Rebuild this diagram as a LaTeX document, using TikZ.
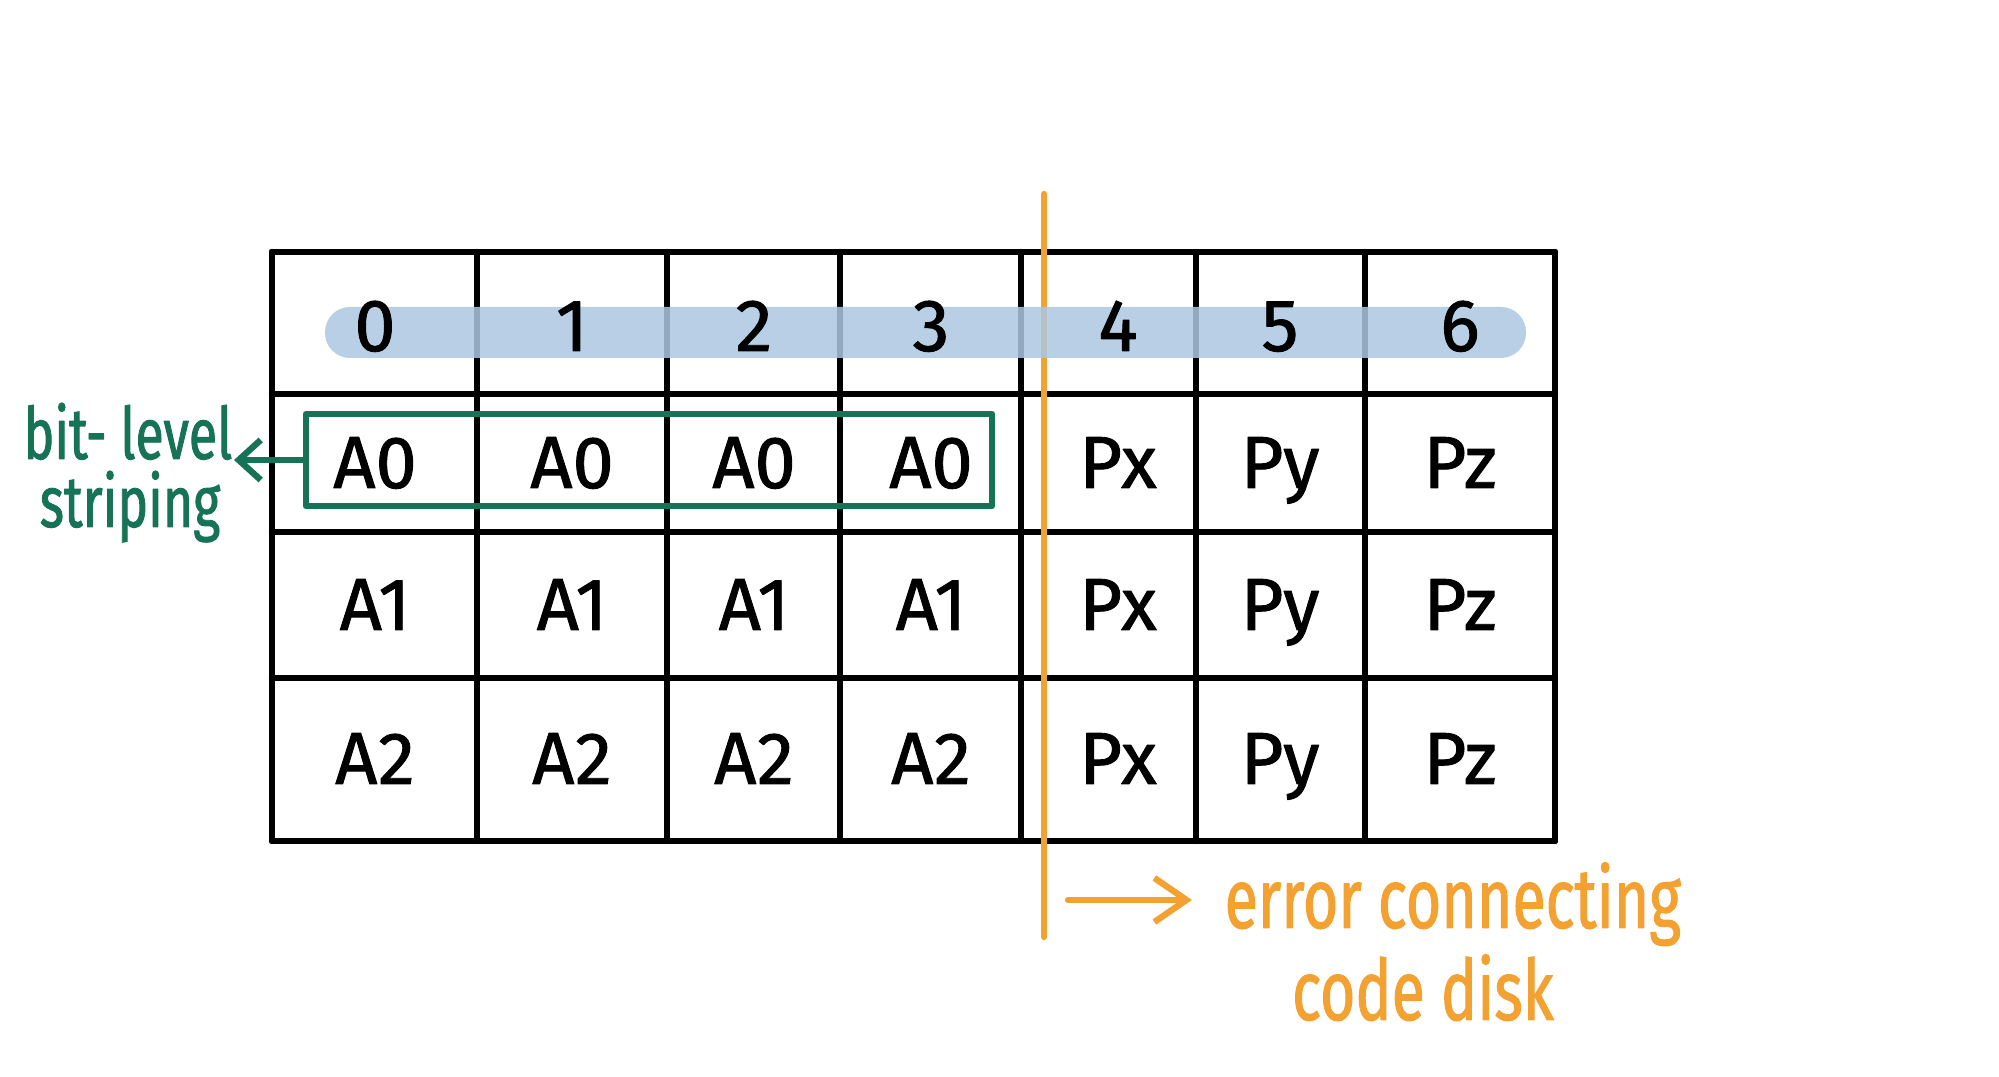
\documentclass[tikz,border=0pt]{standalone}
\usepackage{fontspec}
\setmainfont{Fira Sans}[FakeBold=1.2]
\newfontfamily\hand[FakeStretch=0.72,FakeBold=1.2]{Fira Sans}
\usetikzlibrary{arrows.meta}
\definecolor{bandblue}{RGB}{172,199,224}
\definecolor{stripgreen}{RGB}{22,115,86}
\definecolor{parorange}{RGB}{243,162,50}
\begin{document}
\begin{tikzpicture}[x=0.01cm,y=-0.01cm,line join=round,line cap=round,font=\fontsize{21}{25}\selectfont]
                \def\lw{1.8pt}
                \tikzset{c/.style={inner sep=0pt,anchor=base},
                    g/.style={stripgreen,line width=1.8pt},
                    o/.style={parorange,line width=1.8pt},
                    gl/.style={stripgreen,inner sep=0pt,anchor=base,font=\hand\fontsize{20.5}{25}\selectfont},
                    ol/.style={parorange,inner sep=0pt,anchor=base,font=\hand\fontsize{24}{29}\selectfont}}
                \useasboundingbox (0,0) rectangle (1999,1077);

                \foreach \y in {252,394,532,678,841}{
                    \draw[line width=\lw] (272,\y)--(1555,\y);	}
                \foreach \x in {272,477,667,840,1021,1196,1365,1555}{
                    \draw[line width=\lw] (\x,252)--(\x,841);	}

                \path(1044,194)coordinate(pt) (1044,937)coordinate(pb) (1068,900)coordinate(oa);
                \draw[o] (pt)--(pb);
                \fill[bandblue,opacity=.85,rounded corners=0.25cm] (325,307) rectangle (1526,358);

                \foreach \x/\t [count=\i from 0] in {375/0,572/1,754/2,931/3,1118/4,1280/5,1460/6}{
                    \node[c](h\i) at (\x,351) {\t};	}
                \foreach \y/\r in {488/0,630/1,784/2}{
                    \foreach \x [count=\i from 0] in {375,572,754,931}{
                        \node[c](a\r\i) at (\x,\y) {A\r};	}
                    \foreach \x/\s [count=\i from 4] in {1118/x,1280/y,1460/z}{
                        \node[c](p\r\i) at (\x,\y) {P\s};	}
                }

                \node[g,draw,minimum width=6.86cm,minimum height=0.92cm,inner sep=0pt](stripe) at (649,460) {};
                \path(128,459)node[gl](bit){bit- level}
                (130,527)node[gl](striping){striping}
                (234,460)coordinate(bittip);
                \draw[g,-{Straight Barb[length=2.2mm,width=4mm]}] (stripe.west)--(bittip);

                \path(1192,928)node[ol,anchor=base west,inner xsep=0.32cm](err){error connecting}
                (1423,1020)node[ol](disk){code disk};
                \draw[o,-{Straight Barb[length=3.2mm,width=4.4mm]}] (oa)--(oa -| err.west);
            \end{tikzpicture}
\end{document}
